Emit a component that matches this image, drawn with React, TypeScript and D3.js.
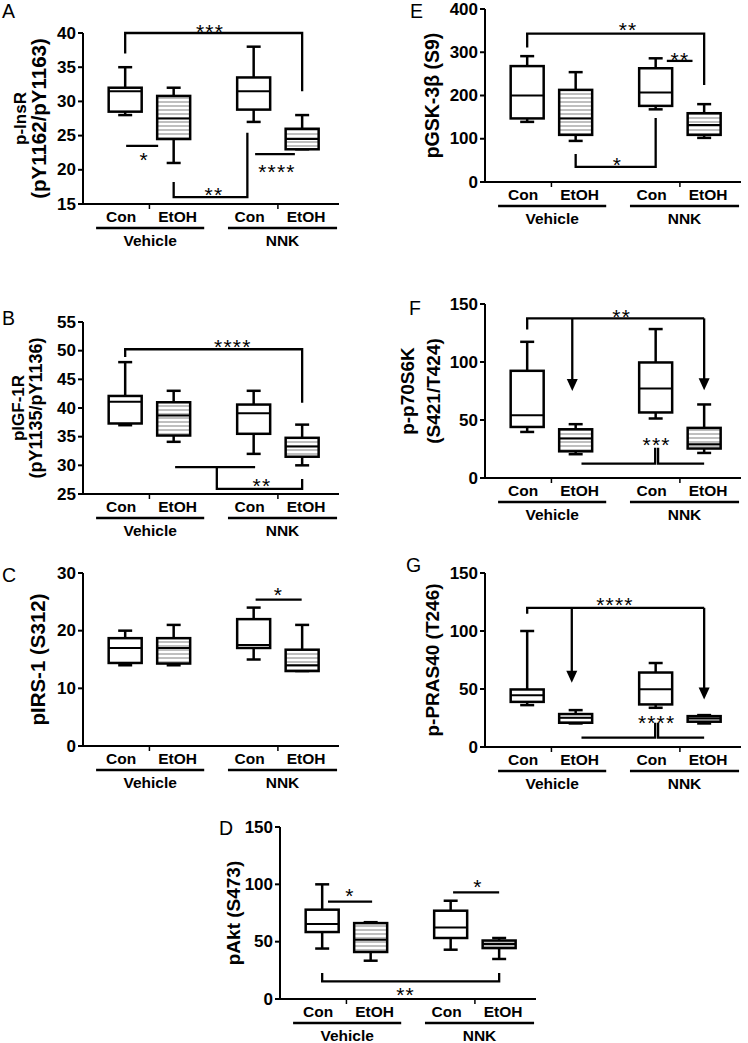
import React from "react";
import * as d3 from "d3";

// ---------- shared categories ----------
const conditions = ["Con", "EtOH", "Con", "EtOH"];
const groups = ["Vehicle", "NNK"];
const slots = [0, 1, 2.65, 3.65];
const groupSpans: [number, number][] = [[-0.6, 1.63], [2.12, 4.37]];
const xTickSlots = [0.5, 3.15];

// ---------- box stats: [min, q1, median, q3, max] ----------
const boxesA = [[28, 28.5, 31.5, 32, 35], [21, 24.5, 27.5, 30.8, 32], [27, 28.8, 31.5, 33.5, 38], [23, 23, 24.5, 26, 28]];
const boxesB = [[37, 37.3, 41.1, 42.1, 48], [34.1, 35.2, 38.7, 41, 43], [32, 35.5, 39.1, 40.6, 43], [30, 31.5, 33.3, 34.8, 37.1]];
const boxesC = [[14, 14.4, 17, 18.7, 20], [14, 14.3, 17, 18.7, 21], [15, 17, 17.5, 22, 24], [13, 13, 14, 16.7, 21]];
const boxesD = [[44, 58.4, 65.4, 77.9, 100], [33.4, 41, 51.7, 66.2, 67], [43, 53.2, 62.4, 77, 85.7], [34.9, 44.4, 48, 51, 53.2]];
const boxesE = [[139, 147, 200, 268, 291], [95, 109, 147, 213, 254], [168, 176, 207, 263, 286], [102, 109, 132, 159, 180]];
const boxesF = [[39.7, 44, 54.1, 92.4, 117.4], [20.5, 23, 34, 42, 46.4], [51.3, 56.5, 77.2, 99.6, 128.4], [21.6, 25.4, 29.1, 43.2, 63.4]];
const boxesG = [[36.1, 38.9, 44.7, 49.6, 100], [20.3, 20.9, 25.2, 28.4, 31.8], [33.8, 36.7, 49.8, 64.2, 72.4], [20.3, 21.8, 24.6, 26.6, 27.5]];

// ---------- y ticks ----------
const ticksA = [15, 20, 25, 30, 35, 40];
const ticksB = [25, 30, 35, 40, 45, 50, 55];
const ticksC = [0, 10, 20, 30];
const ticksD = [0, 50, 100, 150];
const ticksE = [0, 100, 200, 300, 400];
const ticksF = [0, 50, 100, 150];
const ticksG = [0, 50, 100, 150];

// ---------- significance lines [slot, value] ----------
type P = [number, number];
const linesA: P[][] = [
  [[0, 37], [0, 40], [3.65, 40], [3.65, 31.5]],
  [[0.02, 23.5], [0.68, 23.5]],
  [[1, 18.2], [1, 16], [2.52, 16], [2.52, 25.4]],
  [[2.68, 22.3], [3.5, 22.3]],
];
const starsA: [string, number, number][] = [["***", 1.75, 40.9], ["*", 0.39, 22.2], ["**", 1.83, 17.05], ["****", 3.13, 20.4]];

const linesB: P[][] = [
  [[0, 48.9], [0, 50.25], [3.65, 50.25], [3.65, 40.9]],
  [[1.03, 29.7], [2.68, 29.7]],
  [[1.89, 29.7], [1.89, 25.9], [3.65, 25.9], [3.65, 27.6]],
];
const starsB: [string, number, number][] = [["****", 2.22, 51.5], ["**", 2.82, 27.2]];

const linesC: P[][] = [[[2.69, 25.4], [3.64, 25.4]]];
const starsC: [string, number, number][] = [["*", 3.16, 27.05]];

const linesD: P[][] = [
  [[0.12, 85], [1.03, 85]],
  [[2.7, 93], [3.65, 93]],
  [[0, 22.6], [0, 15.4], [3.65, 15.4], [3.65, 22.6]],
];
const starsD: [string, number, number][] = [["*", 0.57, 93.8], ["*", 3.21, 101.7], ["**", 1.72, 8.1]];

const linesE: P[][] = [
  [[0, 311], [0, 343], [3.65, 343], [3.65, 224]],
  [[2.88, 280], [3.41, 280]],
  [[1, 65], [1, 35], [2.65, 35], [2.65, 148]],
];
const starsE: [string, number, number][] = [["**", 2.08, 363], ["**", 3.15, 294], ["*", 1.86, 51]];

const linesF: P[][] = [
  [[0, 128], [0, 137.6], [3.65, 137.6]],
  [[1.12, 12.4], [2.64, 12.4], [2.64, 26]],
  [[2.7, 26], [2.7, 12.4], [3.65, 12.4]],
];
const arrowsF: P[][] = [
  [[0.93, 137.6], [0.93, 75]],
  [[3.65, 137.6], [3.65, 75.7]],
];
const starsF: [string, number, number][] = [["**", 1.95, 143.4], ["***", 2.67, 32.6]];

const linesG: P[][] = [
  [[0, 114.8], [0, 120], [3.65, 120]],
  [[1.12, 8], [2.64, 8], [2.64, 20.9]],
  [[2.7, 20.9], [2.7, 8], [3.65, 8]],
];
const arrowsG: P[][] = [
  [[0.92, 120], [0.92, 55.3]],
  [[3.65, 120], [3.65, 41]],
];
const starsG: [string, number, number][] = [["****", 1.81, 126.8], ["****", 2.67, 24.6]];

// ---------- layout ----------
type PanelCfg = {
  letter: string; lx: number; ly: number;
  axisX: number; yTop: number; yBot: number; domain: [number, number];
  ticks: number[]; boxes: number[][]; lines: P[][]; arrows: P[][];
  stars: [string, number, number][]; ylabel: string[]; ylabelX: number[]; ylabelSize: number[];
};

const panels: PanelCfg[] = [
  { letter: "A", lx: 2, ly: 18, axisX: 83, yTop: 33, yBot: 204, domain: [15, 40], ticks: ticksA, boxes: boxesA, lines: linesA, arrows: [], stars: starsA, ylabel: ["p-InsR", "(pY1162/pY1163)"], ylabelX: [20, 38], ylabelSize: [17, 20.5] },
  { letter: "B", lx: 2, ly: 325, axisX: 83, yTop: 322, yBot: 494, domain: [25, 55], ticks: ticksB, boxes: boxesB, lines: linesB, arrows: [], stars: starsB, ylabel: ["pIGF-1R", "(pY1135/pY1136)"], ylabelX: [18, 36], ylabelSize: [17, 18] },
  { letter: "C", lx: 2, ly: 582, axisX: 83, yTop: 573, yBot: 746, domain: [0, 30], ticks: ticksC, boxes: boxesC, lines: linesC, arrows: [], stars: starsC, ylabel: ["pIRS-1 (S312)"], ylabelX: [37], ylabelSize: [20.5] },
  { letter: "D", lx: 219, ly: 835, axisX: 280, yTop: 827, yBot: 999, domain: [0, 150], ticks: ticksD, boxes: boxesD, lines: linesD, arrows: [], stars: starsD, ylabel: ["pAkt (S473)"], ylabelX: [233], ylabelSize: [19] },
  { letter: "E", lx: 410, ly: 18, axisX: 485, yTop: 9, yBot: 182, domain: [0, 400], ticks: ticksE, boxes: boxesE, lines: linesE, arrows: [], stars: starsE, ylabel: ["pGSK-3\u03b2 (S9)"], ylabelX: [432], ylabelSize: [19.5] },
  { letter: "F", lx: 409, ly: 315, axisX: 485, yTop: 304, yBot: 478, domain: [0, 150], ticks: ticksF, boxes: boxesF, lines: linesF, arrows: arrowsF, stars: starsF, ylabel: ["p-p70S6K", "(S421/T424)"], ylabelX: [407, 433], ylabelSize: [19, 19] },
  { letter: "G", lx: 406, ly: 572, axisX: 485, yTop: 573, yBot: 747, domain: [0, 150], ticks: ticksG, boxes: boxesG, lines: linesG, arrows: arrowsG, stars: starsG, ylabel: ["p-PRAS40 (T246)"], ylabelX: [432], ylabelSize: [19] },
];

const FONT = "'Liberation Sans', Arial, Helvetica, sans-serif";
const AXIS_W = 256;

function Panel({ p }: { p: PanelCfg }) {
  const x = d3.scaleLinear().domain([-0.87, 4.41]).range([p.axisX, p.axisX + AXIS_W]);
  const y = d3.scaleLinear().domain(p.domain).range([p.yBot, p.yTop]);
  const line = d3.line<P>().x((d) => x(d[0])).y((d) => y(d[1]));
  const half = 16.5;
  const cap = 7;
  const yMid = (p.yTop + p.yBot) / 2;
  const headH = 12, headW = 11;
  return (
    <g>
      <text x={p.lx} y={p.ly} fontSize={19.5} fontFamily={FONT}>{p.letter}</text>
      {p.ylabel.map((t, i) => (
        <text key={i} transform={`translate(${p.ylabelX[i]},${yMid}) rotate(-90)`} textAnchor="middle" dominantBaseline="central" fontSize={p.ylabelSize[i]} fontWeight="bold" fontFamily={FONT}>{t}</text>
      ))}
      {/* y axis */}
      <line x1={p.axisX} x2={p.axisX} y1={p.yTop} y2={p.yBot} stroke="#000" strokeWidth={2} />
      {p.ticks.map((t) => (
        <g key={t}>
          <line x1={p.axisX - 5} x2={p.axisX} y1={y(t)} y2={y(t)} stroke="#000" strokeWidth={2} />
          <text x={p.axisX - 7} y={y(t)} textAnchor="end" dominantBaseline="central" fontSize={17} fontWeight="bold" fontFamily={FONT}>{t}</text>
        </g>
      ))}
      {/* x axis */}
      <line x1={p.axisX} x2={p.axisX + AXIS_W} y1={p.yBot} y2={p.yBot} stroke="#000" strokeWidth={1.8} />
      {xTickSlots.map((s, i) => (
        <line key={i} x1={x(s)} x2={x(s)} y1={p.yBot} y2={p.yBot + 5} stroke="#000" strokeWidth={1.5} />
      ))}
      {conditions.map((c, i) => (
        <text key={i} x={x(slots[i]) + (c === "Con" ? -4 : 4)} y={p.yBot + 12} textAnchor="middle" dominantBaseline="central" fontSize={15.5} fontWeight="bold" fontFamily={FONT}>{c}</text>
      ))}
      {groups.map((g, i) => (
        <g key={g}>
          <line x1={x(groupSpans[i][0])} x2={x(groupSpans[i][1])} y1={p.yBot + 24} y2={p.yBot + 24} stroke="#000" strokeWidth={2.5} />
          <text x={(x(groupSpans[i][0]) + x(groupSpans[i][1])) / 2} y={p.yBot + 36} textAnchor="middle" dominantBaseline="central" fontSize={15.5} fontWeight="bold" fontFamily={FONT}>{g}</text>
        </g>
      ))}
      {/* boxes */}
      {p.boxes.map((b, i) => {
        const cx = x(slots[i]);
        const [mn, q1, md, q3, mx] = b;
        return (
          <g key={i} stroke="#000" strokeWidth={2.5}>
            <line x1={cx} x2={cx} y1={y(mx)} y2={y(q3)} />
            <line x1={cx} x2={cx} y1={y(q1)} y2={y(mn)} />
            <line x1={cx - cap} x2={cx + cap} y1={y(mx)} y2={y(mx)} />
            <line x1={cx - cap} x2={cx + cap} y1={y(mn)} y2={y(mn)} />
            <rect x={cx - half} y={y(q3)} width={half * 2} height={Math.max(0.5, y(q1) - y(q3))} fill={i % 2 === 1 ? "url(#hatch)" : "#fff"} />
            <line x1={cx - half} x2={cx + half} y1={y(md)} y2={y(md)} strokeWidth={2} />
          </g>
        );
      })}
      {/* significance */}
      {p.lines.map((l, i) => (
        <path key={i} d={line(l) || ""} fill="none" stroke="#000" strokeWidth={2.3} />
      ))}
      {p.arrows.map((a, i) => {
        const tip = a[a.length - 1];
        const tx = x(tip[0]);
        const ty = y(tip[1]);
        const pts = a.map((d) => [x(d[0]), y(d[1])] as [number, number]);
        pts[pts.length - 1] = [tx, ty - headH + 1];
        return (
          <g key={i}>
            <path d={d3.line()(pts) || ""} fill="none" stroke="#000" strokeWidth={2.3} />
            <polygon points={`${tx - headW / 2},${ty - headH} ${tx + headW / 2},${ty - headH} ${tx},${ty}`} fill="#000" />
          </g>
        );
      })}
      {p.stars.map(([s, sx, sv], i) => (
        <text key={i} x={x(sx)} y={y(sv) + 12} textAnchor="middle" fontSize={21} fontFamily={FONT} letterSpacing={1.2}>{s}</text>
      ))}
    </g>
  );
}

export default function App() {
  return (
    <svg width={748} height={1043} viewBox="0 0 748 1043" style={{ position: "absolute", left: 0, top: 0, background: "#fff" }}>
      <defs>
        <pattern id="hatch" width={8} height={4} patternUnits="userSpaceOnUse">
          <rect width={8} height={4} fill="#fff" />
          <line x1={0} x2={8} y1={2} y2={2} stroke="#8a8a8a" strokeWidth={1.1} />
        </pattern>
      </defs>
      <rect width={748} height={1043} fill="#fff" />
      {panels.map((p) => (
        <Panel key={p.letter} p={p} />
      ))}
    </svg>
  );
}
